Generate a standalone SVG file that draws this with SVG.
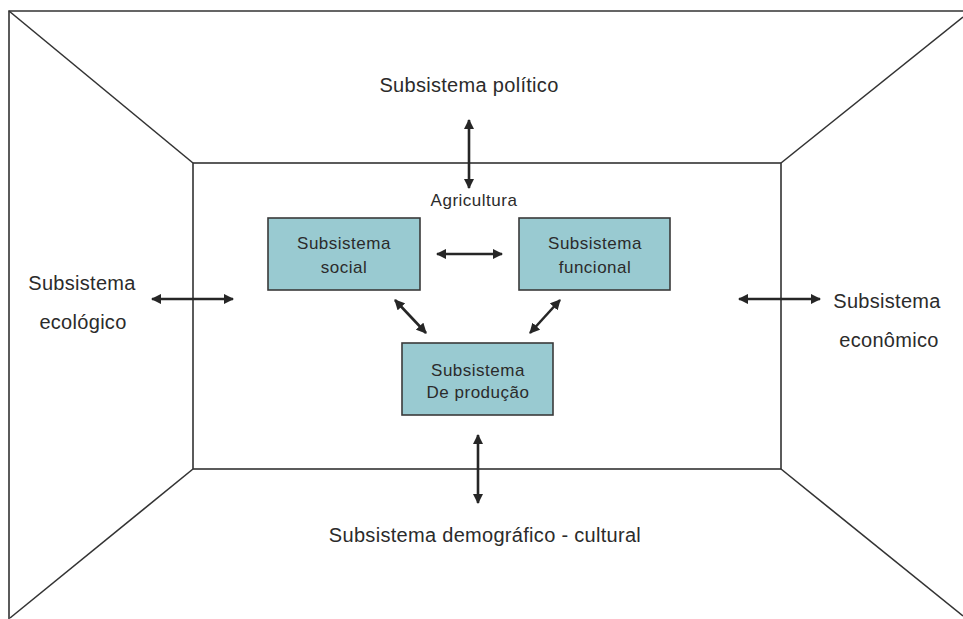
<svg xmlns="http://www.w3.org/2000/svg" width="963" height="619" viewBox="0 0 963 619">
<style>
.frame{fill:none;stroke:#333;stroke-width:1.6}
.box{fill:#99CAD1;stroke:#3a3a3a;stroke-width:1.6}
.conn{stroke:#262626;stroke-width:2.6;fill:none;marker-start:url(#ah);marker-end:url(#ah)}
.big{font-family:"Liberation Sans",Arial,sans-serif;font-size:20px;letter-spacing:0.3px;fill:#2b2b2b;text-anchor:middle}
.sm{font-family:"Liberation Sans",Arial,sans-serif;font-size:17px;letter-spacing:0.5px;fill:#2b2b2b;text-anchor:middle}
</style>
<defs>
<marker id="ah" viewBox="0 0 10 10" refX="9" refY="5" markerWidth="4" markerHeight="4" markerUnits="strokeWidth" orient="auto-start-reverse">
<path d="M0,0 L10,5 L0,10 z" fill="#262626"/>
</marker>
</defs>
<rect width="963" height="619" fill="#fff"/>
<g id="frame">
<polyline class="frame" points="9,619 9,11 963,11"/>
<rect class="frame" x="193" y="163" width="588" height="306"/>
<line class="frame" x1="9" y1="11" x2="193" y2="163"/>
<line class="frame" x1="963" y1="17" x2="781" y2="163"/>
<line class="frame" x1="781" y1="469" x2="963" y2="616"/>
<line class="frame" x1="193" y1="469" x2="10" y2="618"/>
</g>
<g id="label-politico"><text class="big" x="469" y="92">Subsistema político</text></g>
<g id="label-agricultura"><text class="sm" x="474" y="206">Agricultura</text></g>
<g id="label-ecologico"><text class="big" x="82" y="290">Subsistema</text><text class="big" x="83" y="329">ecológico</text></g>
<g id="label-economico"><text class="big" x="887" y="308">Subsistema</text><text class="big" x="889" y="347">econômico</text></g>
<g id="label-demografico"><text class="big" x="485" y="542">Subsistema demográfico - cultural</text></g>
<g id="node-social">
<rect class="box" x="268" y="218" width="152" height="72"/>
<text class="sm" x="344" y="249">Subsistema</text><text class="sm" x="344" y="273">social</text>
</g>
<g id="node-funcional">
<rect class="box" x="519" y="218" width="151" height="72"/>
<text class="sm" x="595" y="249">Subsistema</text><text class="sm" x="595" y="273">funcional</text>
</g>
<g id="node-producao">
<rect class="box" x="402" y="343" width="151" height="72"/>
<text class="sm" x="478" y="376">Subsistema</text><text class="sm" x="478" y="398">De produção</text>
</g>
<g id="connectors">
<line class="conn" x1="469" y1="120" x2="469" y2="188"/>
<line class="conn" x1="437" y1="254" x2="502" y2="254"/>
<line class="conn" x1="395" y1="300" x2="426" y2="333"/>
<line class="conn" x1="560" y1="300" x2="530" y2="333"/>
<line class="conn" x1="152" y1="299" x2="233" y2="299"/>
<line class="conn" x1="739" y1="299" x2="820" y2="299"/>
<line class="conn" x1="478" y1="435" x2="478" y2="503"/>
</g>
</svg>
